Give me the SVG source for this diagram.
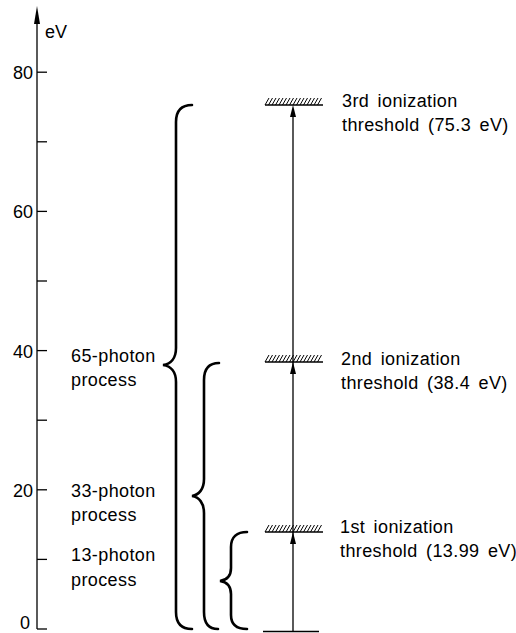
<svg xmlns="http://www.w3.org/2000/svg" width="516" height="633" viewBox="0 0 516 633">
<style>
.t{font-family:"Liberation Sans",Arial,sans-serif;font-size:18px;fill:#000;letter-spacing:0.4px;word-spacing:3px}
.n{font-family:"Liberation Sans",Arial,sans-serif;font-size:18px;fill:#000}
.ln{stroke:#000;stroke-width:1.3;fill:none}
.br{stroke:#000;stroke-width:2.6;fill:none;stroke-linecap:round}
.h{stroke:#000;stroke-width:1;fill:none}
</style>
<defs>
<g id="hatchbar">
<line x1="0" y1="0" x2="58" y2="0" stroke="#000" stroke-width="1.4"/>
<path class="h" d="M0,0l4,-7M3.5,0l4,-7M7,0l4,-7M10.5,0l4,-7M14,0l4,-7M17.5,0l4,-7M21,0l4,-7M24.5,0l4,-7M28,0l4,-7M31.5,0l4,-7M35,0l4,-7M38.5,0l4,-7M42,0l4,-7M45.5,0l4,-7M49,0l4,-7M52.5,0l4,-7"/>
</g>
<polygon id="ah" points="0,0 -3,12 3,12" fill="#000"/>
</defs>
<rect width="516" height="633" fill="#fff"/>
<g id="axis">
<line class="ln" x1="37" y1="629" x2="37" y2="18"/>
<polygon points="37,6 34,24 40,24" fill="#000"/>
<g stroke="#000" stroke-width="1.3">
<line x1="37" y1="629" x2="47" y2="629"/>
<line x1="37" y1="559.4" x2="47" y2="559.4"/>
<line x1="37" y1="489.8" x2="47" y2="489.8"/>
<line x1="37" y1="420.2" x2="47" y2="420.2"/>
<line x1="37" y1="350.6" x2="47" y2="350.6"/>
<line x1="37" y1="281" x2="47" y2="281"/>
<line x1="37" y1="211.4" x2="47" y2="211.4"/>
<line x1="37" y1="141.8" x2="47" y2="141.8"/>
<line x1="37" y1="72.2" x2="47" y2="72.2"/>
</g>
<text class="n" x="45" y="38">eV</text>
<text class="n" x="33" y="79" text-anchor="end">80</text>
<text class="n" x="33" y="218" text-anchor="end">60</text>
<text class="n" x="33" y="358" text-anchor="end">40</text>
<text class="n" x="33" y="497" text-anchor="end">20</text>
<text class="n" x="30" y="629" text-anchor="end">0</text>
</g>
<g id="ground">
<line class="ln" x1="263" y1="631.5" x2="319" y2="631.5"/>
</g>
<g id="level1">
<use href="#hatchbar" x="265" y="532"/>
<text class="t" x="340" y="533">1st ionization</text>
<text class="t" x="340" y="557">threshold (13.99 eV)</text>
</g>
<g id="level2">
<use href="#hatchbar" x="265" y="362"/>
<text class="t" x="341" y="365">2nd ionization</text>
<text class="t" x="341" y="389">threshold (38.4 eV)</text>
</g>
<g id="level3">
<use href="#hatchbar" x="265" y="105"/>
<text class="t" x="342" y="107">3rd ionization</text>
<text class="t" x="342" y="131">threshold (75.3 eV)</text>
</g>
<g id="p65">
<path class="br" d="M192,105 C182,105 176,110 176,122 L176,348 C176,358 171,364 163,365 C171,366 176,372 176,382 L176,612 C176,624 182,629 192,629"/>
<text class="t" x="71" y="362">65-photon</text>
<text class="t" x="71" y="386">process</text>
</g>
<g id="p33">
<path class="br" d="M219,363 C209,363 204,368 204,380 L204,479 C204,489 199,495 192,496 C199,497 204,503 204,513 L204,612 C204,624 209,629 218,629"/>
<text class="t" x="71" y="497">33-photon</text>
<text class="t" x="71" y="521">process</text>
</g>
<g id="p13">
<path class="br" d="M247,532 C237,532 231,537 231,547 L231,568 C231,576 227,580 220,581 C227,582 231,586 231,594 L231,615 C231,625 237,629 247,629"/>
<text class="t" x="71" y="561">13-photon</text>
<text class="t" x="71" y="586">process</text>
</g>
<g id="connectors">
<line class="ln" x1="293" y1="631" x2="293" y2="110"/>
<use href="#ah" x="293" y="105"/>
<use href="#ah" x="293" y="362"/>
<use href="#ah" x="293" y="532"/>
</g>
</svg>
